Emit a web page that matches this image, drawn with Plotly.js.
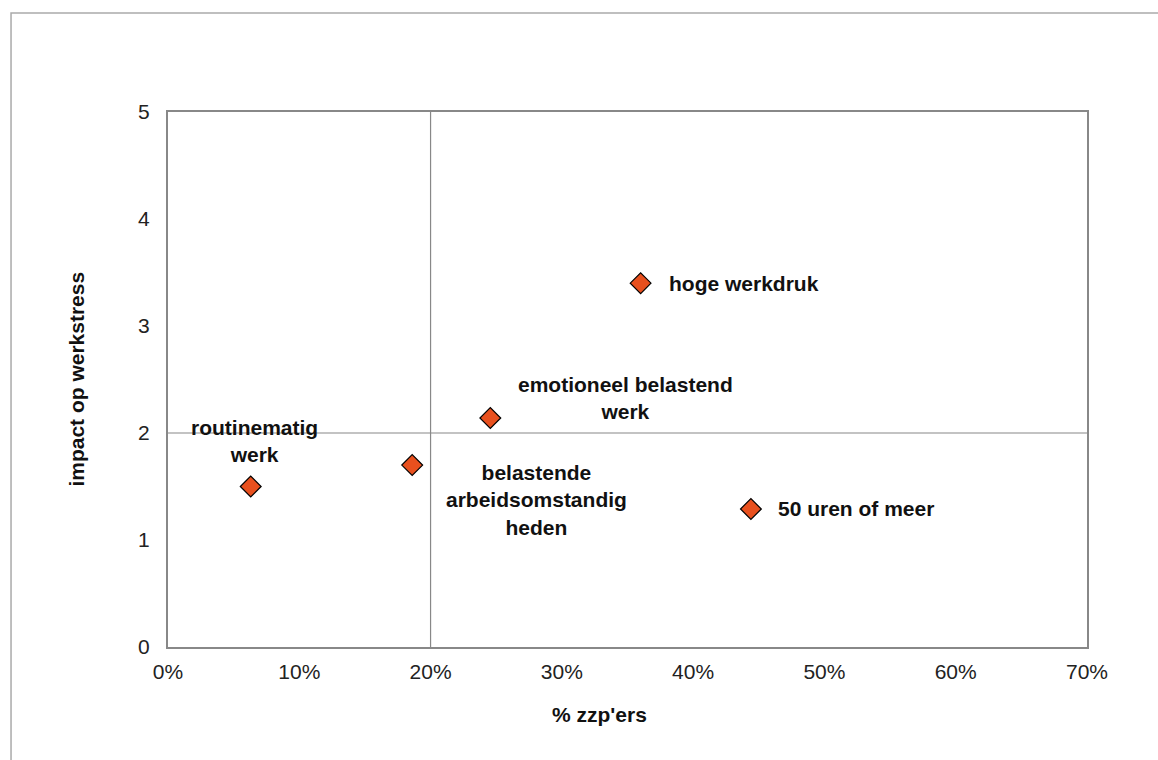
<!DOCTYPE html>
<html>
<head>
<meta charset="utf-8">
<script src="https://cdn.plot.ly/plotly-3.0.1.min.js"></script>
<style>
html,body{margin:0;padding:0;background:#fff;}
#chart{width:1158px;height:760px;}
</style>
</head>
<body>
<div id="chart"></div>
<script>
// Data
var categories = ["routinematig<br>werk", "belastende<br>arbeidsomstandig<br>heden", "emotioneel belastend<br>werk", "hoge werkdruk", "50 uren of meer"];
var pctZzp = [0.063, 0.186, 0.2455, 0.360, 0.444];
var impact = [1.50, 1.70, 2.14, 3.40, 1.29];
var xTickVals = [0, 0.1, 0.2, 0.3, 0.4, 0.5, 0.6, 0.7];
var xTickText = ["0%", "10%", "20%", "30%", "40%", "50%", "60%", "70%"];
var yTickVals = [0, 1, 2, 3, 4, 5];
var crossX = 0.2;
var crossY = 2;

// label placement (pixel offsets from each point)
var labelStyle = [
  {xanchor: "center", xshift: 4, yshift: 46},
  {xanchor: "center", xshift: 124, yshift: -35},
  {xanchor: "center", xshift: 135, yshift: 20},
  {xanchor: "left", xshift: 26, yshift: 0},
  {xanchor: "left", xshift: 25, yshift: 0}
];

var font = "Liberation Sans, Arial, sans-serif";

var annotations = categories.map(function(c, i) {
  return {
    x: pctZzp[i], y: impact[i], xref: "x", yref: "y",
    text: "<b>" + c + "</b>", showarrow: false,
    xanchor: labelStyle[i].xanchor, yanchor: "middle",
    xshift: labelStyle[i].xshift, yshift: labelStyle[i].yshift,
    align: "center",
    font: {family: font, size: 21, color: "#111"}
  };
});
annotations.push({
  text: "<b>impact op werkstress</b>", xref: "paper", yref: "paper",
  x: -0.1, y: 0.5, textangle: -90, showarrow: false,
  xanchor: "center", yanchor: "middle",
  font: {family: font, size: 21, color: "#111"}
});
annotations.push({
  text: "<b>% zzp'ers</b>", xref: "paper", yref: "paper",
  x: 0.469, y: -0.127, showarrow: false,
  xanchor: "center", yanchor: "middle",
  font: {family: font, size: 21, color: "#111"}
});

var trace = {
  x: pctZzp, y: impact, type: "scatter", mode: "markers",
  marker: {symbol: "diamond", size: 16, color: "#E8501E", line: {color: "#000", width: 1.2}},
  hoverinfo: "skip", showlegend: false
};

var layout = {
  width: 1158, height: 760,
  margin: {l: 168, r: 71, t: 112, b: 113},
  paper_bgcolor: "#fff", plot_bgcolor: "#fff",
  showlegend: false,
  xaxis: {
    range: [0, 0.7], tickvals: xTickVals, ticktext: xTickText,
    showgrid: false, zeroline: false, showline: true, mirror: true,
    linecolor: "#888", linewidth: 2, ticks: "",
    tickfont: {family: font, size: 21, color: "#222"}, ticklabelstandoff: 5
  },
  yaxis: {
    range: [0, 5], tickvals: yTickVals,
    showgrid: false, zeroline: false, showline: true, mirror: true,
    linecolor: "#888", linewidth: 2, ticks: "",
    tickfont: {family: font, size: 21, color: "#222"}, ticklabelstandoff: 12
  },
  shapes: [
    {type: "line", xref: "x", yref: "paper", x0: crossX, x1: crossX, y0: 0, y1: 1, line: {color: "#888", width: 1.2}, layer: "below"},
    {type: "line", xref: "paper", yref: "y", x0: 0, x1: 1, y0: crossY, y1: crossY, line: {color: "#888", width: 1.2}, layer: "below"},
    {type: "rect", xref: "paper", yref: "paper", x0: -0.1708, x1: 1.2, y0: -0.3, y1: 1.185, line: {color: "#aaa", width: 1.5}, layer: "below"}
  ],
  annotations: annotations
};

Plotly.newPlot("chart", [trace], layout, {staticPlot: true, displayModeBar: false});
</script>
</body>
</html>
